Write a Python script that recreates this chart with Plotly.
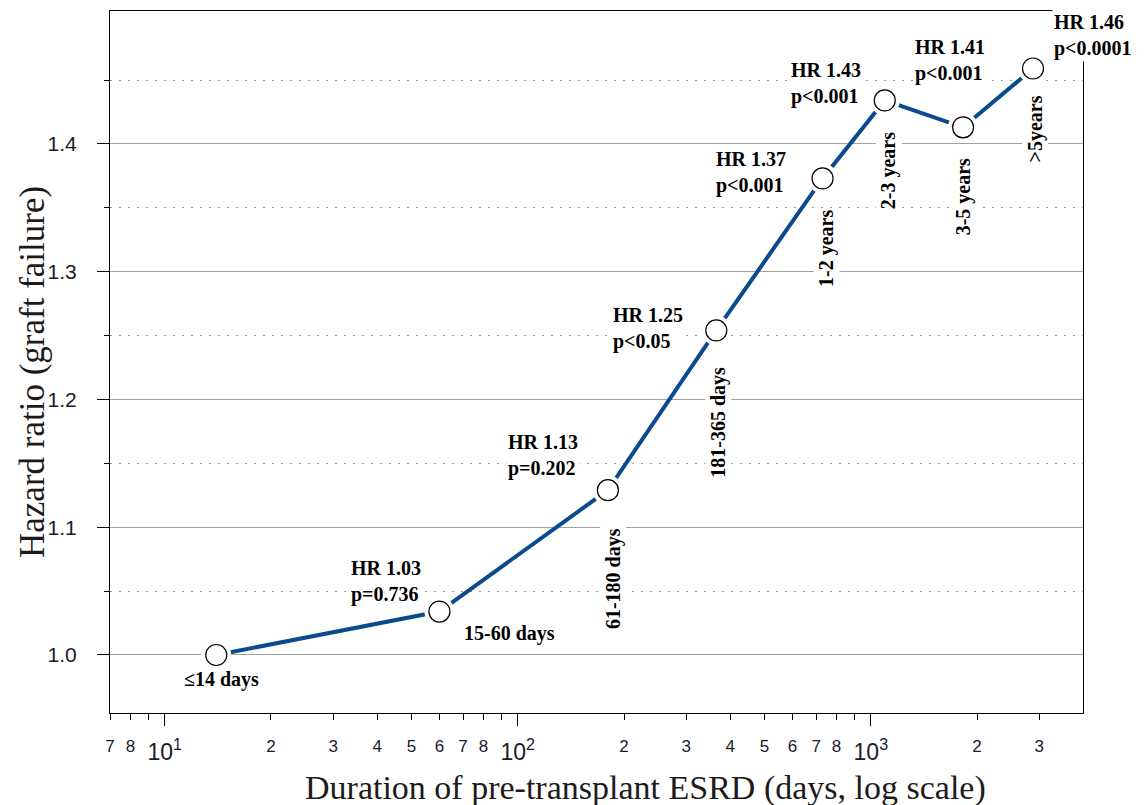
import numpy as np
import plotly.graph_objects as go

# Duration groups of pre-transplant ESRD (days) and graft-failure hazard ratios
groups = ["≤14 days", "15-60 days", "61-180 days", "181-365 days",
          "1-2 years", "2-3 years", "3-5 years", ">5years"]
days = [14, 60, 180, 365, 730, 1095, 1825, 2880]
hazard = [1.0, 1.034, 1.129, 1.254, 1.373, 1.434, 1.413, 1.459]
pvalues = ["", "p=0.736", "p=0.202", "p<0.05", "p<0.001", "p<0.001", "p<0.001", "p<0.0001"]

# axis ticks
y_major = [1.0, 1.1, 1.2, 1.3, 1.4]
y_minor = [1.05, 1.15, 1.25, 1.35, 1.45]
x_major = [10, 100, 1000]
x_major_text = ["10<sup>1</sup>", "10<sup>2</sup>", "10<sup>3</sup>"]
x_minor = [7, 8, 20, 30, 40, 50, 60, 70, 80,
           200, 300, 400, 500, 600, 700, 800, 2000, 3000]
x_minor_text = ["7", "8", "2", "3", "4", "5", "6", "7", "8",
                "2", "3", "4", "5", "6", "7", "8", "2", "3"]
x_unlabelled = [9, 90, 900]

# label placement (pixel shifts from each point)
group_shift = [(5, -25, 0), (70, -22, 0), (5, -88, -90), (2, -92, -90),
               (4, -70, -90), (4, -70, -90), (0, -70, -90), (2, -61, -90)]
hr_shift = [None, (-53, 30), (-65, 35), (-68, 2), (-72, 6), (-59, 17), (-13, 67), (60, 33)]

x_range = [np.log10(7), np.log10(3990)]
y_range = [0.9546, 1.504]

line_color = "#0b4a8c"
serif = "Liberation Serif, Times New Roman, serif"
sans = "Liberation Sans, Arial, sans-serif"
label_font = dict(family=serif, size=20, color="black", weight="bold")

fig = go.Figure()
fig.add_trace(go.Scatter(x=days, y=hazard, mode="lines",
                         line=dict(color=line_color, width=4), hoverinfo="skip"))
# white halo so the line stops short of each circle
fig.add_trace(go.Scatter(x=days, y=hazard, mode="markers",
                         marker=dict(size=30, color="white", line=dict(width=0)),
                         hoverinfo="skip"))
fig.add_trace(go.Scatter(x=days, y=hazard, mode="markers",
                         marker=dict(size=21, color="white",
                                     line=dict(color="black", width=1.2))))

annotations = []
for i, (g, d, h) in enumerate(zip(groups, days, hazard)):
    dx, dy, ang = group_shift[i]
    annotations.append(dict(
        x=np.log10(d), y=h, xref="x", yref="y", text=g, showarrow=False,
        xshift=dx, yshift=dy, textangle=ang, bgcolor="white", borderpad=1,
        font=label_font))
    if hr_shift[i] is not None:
        sx, sy = hr_shift[i]
        annotations.append(dict(
            x=np.log10(d), y=h, xref="x", yref="y",
            text=f"HR {h:.2f}<br>{pvalues[i]}", showarrow=False, align="left",
            xshift=sx, yshift=sy, bgcolor="white", borderpad=1,
            font=label_font))

annotations.append(dict(
    x=0.55, y=-0.1075, xref="paper", yref="paper", xanchor="center", yanchor="middle",
    text="Duration of pre-transplant ESRD (days, log scale)", showarrow=False,
    font=dict(family=serif, size=34, color="#1e1a1a")))
annotations.append(dict(
    x=-0.0791, y=0.4858, xref="paper", yref="paper", xanchor="center", yanchor="middle",
    text="Hazard ratio (graft failure)", showarrow=False, textangle=-90,
    font=dict(family=serif, size=35, color="#1e1a1a")))

fig.update_layout(
    width=1145, height=805,
    margin=dict(l=110, r=62, t=11, b=92),
    plot_bgcolor="white", paper_bgcolor="white",
    showlegend=False,
    annotations=annotations,
    xaxis=dict(
        type="log", range=x_range, showgrid=False, zeroline=False,
        showline=True, mirror=True, linecolor="black", linewidth=1,
        ticks="outside", ticklen=12, tickcolor="black",
        tickvals=x_major, ticktext=x_major_text, ticklabelstandoff=6,
        tickfont=dict(family=sans, size=23, color="#1a1a2e"),
    ),
    xaxis2=dict(
        type="log", range=x_range, overlaying="x", anchor="y", side="bottom",
        showgrid=False, zeroline=False, showline=False,
        ticks="outside", ticklen=6, tickcolor="black",
        tickvals=x_minor, ticktext=x_minor_text, ticklabelstandoff=12,
        tickfont=dict(family=sans, size=17, color="#1a1a2e"),
        minor=dict(tickvals=x_unlabelled, ticks="outside", ticklen=6,
                   tickcolor="black", showgrid=False),
    ),
    yaxis=dict(
        range=y_range, zeroline=False,
        showline=True, mirror=True, linecolor="black", linewidth=1,
        ticks="outside", ticklen=12, tickcolor="black",
        tickvals=y_major, ticktext=[f"{v:.1f}" for v in y_major],
        ticklabelstandoff=16,
        tickfont=dict(family=sans, size=21, color="#1a1a2e"),
        showgrid=True, gridcolor="#a0a0a0", gridwidth=1,
        minor=dict(tickvals=y_minor, ticks="outside", ticklen=5, tickcolor="black",
                   showgrid=True, gridcolor="#9a9a9a", griddash="2px,7px", gridwidth=1),
    ),
)
# an invisible point keeps the overlay axis drawn
fig.add_trace(go.Scatter(x=[days[0]], y=[hazard[0]], xaxis="x2", mode="markers",
                         marker=dict(opacity=0), hoverinfo="skip"))

fig.write_html("out.html")
